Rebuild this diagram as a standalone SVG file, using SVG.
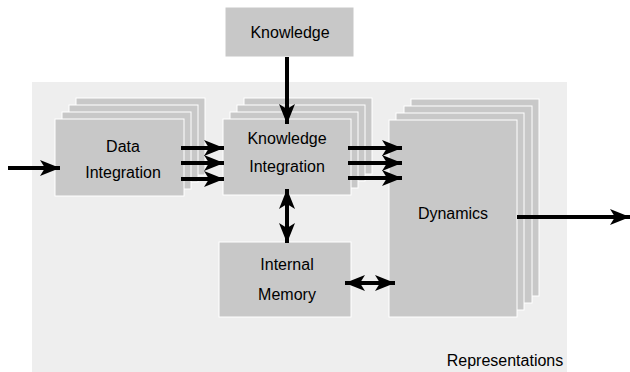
<svg xmlns="http://www.w3.org/2000/svg" width="630" height="372" viewBox="0 0 630 372">
<defs>
<marker id="ah" markerUnits="userSpaceOnUse" markerWidth="22" markerHeight="18" refX="20" refY="8" orient="auto-start-reverse">
<path d="M0,0 L20,8 L0,16 L5,8 z" fill="#000"/>
</marker>
</defs>
<style>
.bg{fill:#eeeeee}
.box{fill:#c8c8c8;stroke:#fff;stroke-width:1}
.lbl{font-family:"Liberation Sans",Arial,sans-serif;font-size:16px;fill:#000;text-anchor:middle}
.ar{stroke:#000;stroke-width:4;fill:none}
</style>
<rect class="bg" x="32" y="82" width="535" height="290"/>
<g id="knowledge">
<rect class="box" x="225" y="7" width="129" height="50"/>
<text class="lbl" x="290" y="38">Knowledge</text>
</g>
<g id="data-integration">
<rect class="box" x="76" y="98" width="129" height="77"/>
<rect class="box" x="69" y="105" width="129" height="77"/>
<rect class="box" x="62" y="112" width="129" height="77"/>
<rect class="box" x="55" y="119" width="129" height="77"/>
<text class="lbl" x="123" y="152">Data</text>
<text class="lbl" x="123" y="178">Integration</text>
</g>
<g id="knowledge-integration">
<rect class="box" x="244" y="98" width="128" height="76"/>
<rect class="box" x="237" y="105" width="128" height="76"/>
<rect class="box" x="230" y="112" width="128" height="76"/>
<rect class="box" x="223" y="119" width="128" height="76"/>
<text class="lbl" x="287" y="144">Knowledge</text>
<text class="lbl" x="287" y="172">Integration</text>
</g>
<g id="dynamics">
<rect class="box" x="411" y="99" width="128" height="197"/>
<rect class="box" x="404" y="106" width="128" height="197"/>
<rect class="box" x="396" y="113" width="128" height="197"/>
<rect class="box" x="389" y="120" width="128" height="197"/>
<text class="lbl" x="453" y="219">Dynamics</text>
</g>
<g id="internal-memory">
<rect class="box" x="219" y="242" width="132" height="75"/>
<text class="lbl" x="287" y="270">Internal</text>
<text class="lbl" x="287" y="300">Memory</text>
</g>
<g id="representations">
<text class="lbl" x="505" y="366">Representations</text>
</g>
<g id="connectors">
<line class="ar" x1="8" y1="168" x2="60" y2="168" marker-end="url(#ah)"/>
<line class="ar" x1="287" y1="57" x2="287" y2="124" marker-end="url(#ah)"/>
<line class="ar" x1="181" y1="148" x2="224" y2="148" marker-end="url(#ah)"/>
<line class="ar" x1="181" y1="163" x2="224" y2="163" marker-end="url(#ah)"/>
<line class="ar" x1="181" y1="179" x2="224" y2="179" marker-end="url(#ah)"/>
<line class="ar" x1="348" y1="148" x2="402" y2="148" marker-end="url(#ah)"/>
<line class="ar" x1="348" y1="163" x2="402" y2="163" marker-end="url(#ah)"/>
<line class="ar" x1="348" y1="178" x2="402" y2="178" marker-end="url(#ah)"/>
<line class="ar" x1="517" y1="217" x2="630" y2="217" marker-end="url(#ah)"/>
<line class="ar" x1="287" y1="189" x2="287" y2="243" marker-start="url(#ah)" marker-end="url(#ah)"/>
<line class="ar" x1="345" y1="283" x2="395" y2="283" marker-start="url(#ah)" marker-end="url(#ah)"/>
</g>
</svg>
